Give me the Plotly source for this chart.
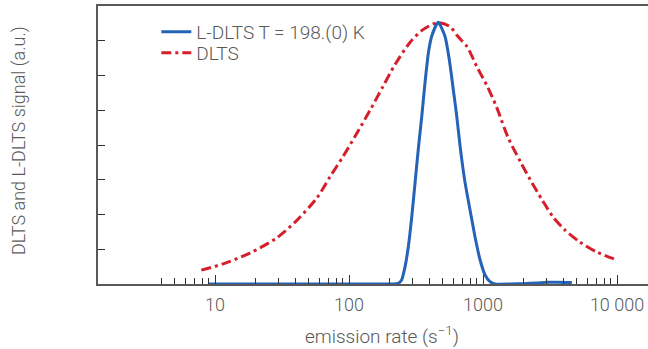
import plotly.graph_objects as go

# ---- data ----
ldlts_rate = [9.0, 50, 150, 215, 233, 247, 262, 277, 294, 311, 329, 349, 369, 391, 414,
              463, 520, 560, 600, 637, 678, 735, 800, 871, 951, 1035, 1127, 1230,
              1600, 2000, 2500, 3000, 3600, 4600]
ldlts_signal = [0.0, 0.0, 0.0, 0.0, 0.02, 0.115, 0.50, 1.07, 1.94, 2.91, 3.89, 4.82, 5.79, 6.65, 7.13,
                7.53, 7.13, 6.46, 5.59, 4.82, 3.89, 2.91, 2.13, 1.36, 0.69, 0.26, 0.07, 0.0,
                0.0, 0.01, 0.03, 0.05, 0.05, 0.04]

dlts_rate = [7.9, 11.5, 18.2, 29, 41, 57.7, 72, 90, 115, 144, 179, 220, 285, 357, 460,
             565, 650, 760, 900, 1070, 1260, 1540, 1900, 2250, 2760, 3330, 4070, 5270, 7050, 10000]
dlts_signal = [0.40, 0.58, 0.89, 1.33, 1.84, 2.48, 3.08, 3.66, 4.35, 5.01, 5.68, 6.31, 6.95, 7.32, 7.52,
               7.41, 7.12, 6.83, 6.25, 5.71, 5.10, 4.21, 3.52, 3.00, 2.42, 1.93, 1.56, 1.21, 0.92, 0.69]

x_tickvals = [10, 100, 1000, 10000]
x_ticktext = ["10", "100", "1000", "10 000"]
x_minor_vals = [4, 5, 6, 7, 8, 9,
                20, 30, 40, 50, 60, 70, 80, 90,
                200, 300, 400, 500, 600, 700, 800, 900,
                2000, 3000, 4000, 5000, 6000, 7000, 8000, 9000]
y_tickvals = [1, 2, 3, 4, 5, 6, 7]

BLUE = "#2563b6"
RED = "#d51f2b"
GREY = "#595959"
FONT = "Roboto"
FS = 18
FSL = 19

fig = go.Figure()
fig.add_trace(go.Scatter(
    x=dlts_rate, y=dlts_signal, mode="lines", name="DLTS",
    legend="legend2",
    line=dict(color=RED, width=3, dash="10px,4px,3px,4px", shape="spline", smoothing=0.8),
))
fig.add_trace(go.Scatter(
    x=ldlts_rate, y=ldlts_signal, mode="lines", name="L-DLTS T = 198.(0) K",
    legend="legend",
    line=dict(color=BLUE, width=3, shape="spline", smoothing=0.6),
))

legend_common = dict(xanchor="left", yanchor="middle", bgcolor="rgba(0,0,0,0)",
                     font=dict(family=FONT, size=FSL, color=GREY, weight=300),
                     itemwidth=30)

fig.update_layout(
    width=648, height=349,
    margin=dict(l=98, r=0, t=6, b=65, autoexpand=False),
    paper_bgcolor="white", plot_bgcolor="white",
    font=dict(family=FONT, size=FS, color=GREY, weight=300),
    showlegend=True,
    legend=dict(x=0.106, y=(284 - 32) / 278, **legend_common),
    legend2=dict(x=0.106, y=(284 - 53) / 278, **legend_common),
    xaxis=dict(
        type="log", range=[0.127, 4.231], automargin=False,
        showline=True, linecolor=GREY, linewidth=1.5, mirror=True,
        showgrid=False, zeroline=False,
        tickmode="array", tickvals=x_tickvals, ticktext=x_ticktext,
        ticks="inside", ticklen=9, tickwidth=1, tickcolor="#333333",
        ticklabelstandoff=4,
        tickfont=dict(family=FONT, size=FS, color=GREY, weight=300),
        minor=dict(tickmode="array", tickvals=x_minor_vals, ticks="inside",
                   ticklen=6, tickwidth=1, tickcolor="#333333", showgrid=False),
    ),
    yaxis=dict(
        range=[0, 8], automargin=False,
        showline=True, linecolor=GREY, linewidth=1.5, mirror=False,
        showgrid=False, zeroline=False,
        tickmode="array", tickvals=y_tickvals, showticklabels=False,
        ticks="inside", ticklen=7, tickwidth=1, tickcolor="#333333",
    ),
    annotations=[
        dict(text="emission rate (s<sup>−1</sup>)", xref="paper", yref="paper",
             x=(382 - 98) / 550, y=-(335 - 284) / 278, xanchor="center", yanchor="middle",
             showarrow=False, font=dict(family=FONT, size=FSL, color=GREY, weight=300)),
        dict(text="DLTS and L-DLTS signal (a.u.)", xref="paper", yref="paper",
             x=-(98 - 19) / 550, y=(284 - 141) / 278, xanchor="center", yanchor="middle",
             textangle=-90, showarrow=False,
             font=dict(family=FONT, size=FS, color=GREY, weight=300)),
    ],
)

fig.write_html("out.html",
               config={"displayModeBar": False},
               post_script="document.body.style.margin='0';document.body.style.padding='0';")
